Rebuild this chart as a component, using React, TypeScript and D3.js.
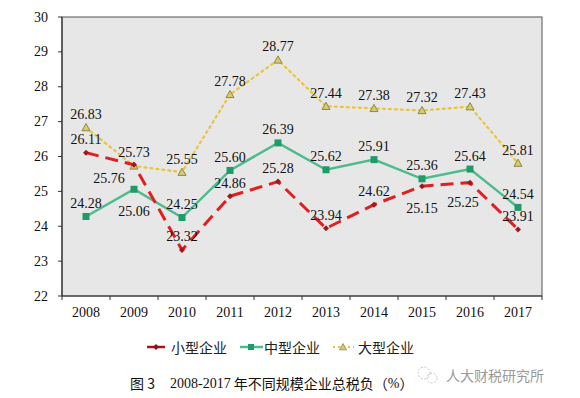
import * as d3 from 'd3'

const years = ['2008', '2009', '2010', '2011', '2012', '2013', '2014', '2015', '2016', '2017']
const smallValues = [26.11, 25.76, 23.32, 24.86, 25.28, 23.94, 24.62, 25.15, 25.25, 23.91]
const mediumValues = [24.28, 25.06, 24.25, 25.6, 26.39, 25.62, 25.91, 25.36, 25.64, 24.54]
const largeValues = [26.83, 25.73, 25.55, 27.78, 28.77, 27.44, 27.38, 27.32, 27.43, 25.81]
const yTicks = [22, 23, 24, 25, 26, 27, 28, 29, 30]

// where each point label sits relative to its marker
const smallPlace = ['up', 'downLeft', 'up', 'up', 'up', 'up', 'up', 'down', 'downLeft2', 'up']
const mediumPlace = ['up', 'down', 'up', 'up', 'up', 'up', 'up', 'up', 'up', 'up']
const largePlace = ['up', 'up', 'up', 'up', 'up', 'up', 'up', 'up', 'up', 'up']

const W = 580
const H = 398
const plot = { left: 62, right: 542, top: 17, bottom: 296 }
const numFont = '"Liberation Serif", "Times New Roman", serif'
const cjkFont = '"Noto Sans CJK SC", sans-serif'

const offsets: Record<string, [number, number]> = {
  up: [0, -13],
  down: [0, 22],
  downLeft: [-25, 14],
  downLeft2: [-7, 20],
}

export default function App() {
  const x = d3.scaleBand<string>().domain(years).range([plot.left, plot.right])
  const y = d3.scaleLinear().domain([22, 30]).range([plot.bottom, plot.top])
  const cx = (i: number) => (x(years[i]) ?? 0) + x.bandwidth() / 2
  const line = d3.line<number>().x((_, i) => cx(i)).y(d => y(d))

  const labels = (vals: number[], place: string[]) =>
    vals.map((v, i) => {
      const [dx, dy] = offsets[place[i]]
      return (
        <text key={i} x={cx(i) + dx} y={y(v) + dy} textAnchor="middle" dominantBaseline="central"
          fontFamily={numFont} fontSize={14} fill="#111">{v.toFixed(2)}</text>
      )
    })

  const tri = (px: number, py: number, s = 4) =>
    `M${px},${py - s} L${px + s},${py + s * 0.8} L${px - s},${py + s * 0.8} Z`

  return (
    <svg width={W} height={H} style={{ position: 'absolute', left: 0, top: 0, background: '#fff' }}>
      <rect x={plot.left} y={plot.top} width={plot.right - plot.left} height={plot.bottom - plot.top}
        fill="#e7e7e7" stroke="#555" strokeWidth={1} />

      {/* y axis */}
      <line x1={plot.left} x2={plot.left} y1={plot.top} y2={plot.bottom} stroke="#333" strokeWidth={1.2} />
      {yTicks.map(t => (
        <g key={t}>
          <line x1={plot.left - 4} x2={plot.left} y1={y(t)} y2={y(t)} stroke="#333" />
          <text x={plot.left - 14} y={y(t)} textAnchor="end" dominantBaseline="central"
            fontFamily={numFont} fontSize={14} fill="#111">{t}</text>
        </g>
      ))}

      {/* x axis */}
      <line x1={plot.left} x2={plot.right} y1={plot.bottom} y2={plot.bottom} stroke="#333" strokeWidth={1.2} />
      {years.map((yr, i) => (
        <g key={yr}>
          <line x1={x(yr)} x2={x(yr)} y1={plot.bottom} y2={plot.bottom + 4} stroke="#333" />
          <text x={cx(i)} y={plot.bottom + 16} textAnchor="middle" dominantBaseline="central"
            fontFamily={numFont} fontSize={14} fill="#111">{yr}</text>
        </g>
      ))}
      <line x1={plot.right} x2={plot.right} y1={plot.bottom} y2={plot.bottom + 4} stroke="#333" />

      {/* large */}
      <path d={line(largeValues) ?? ''} fill="none" stroke="#e8c53a" strokeWidth={2.2} strokeDasharray="2,4" strokeLinecap="round" />
      {/* medium */}
      <path d={line(mediumValues) ?? ''} fill="none" stroke="#4dbb8d" strokeWidth={2.5} />
      {/* small */}
      <path d={line(smallValues) ?? ''} fill="none" stroke="#e02020" strokeWidth={3} strokeDasharray="13,7" />

      {largeValues.map((v, i) => (
        <path key={i} d={tri(cx(i), y(v))} fill="#d9c977" stroke="#8e8a3a" strokeWidth={1} />
      ))}
      {mediumValues.map((v, i) => (
        <rect key={i} x={cx(i) - 3.5} y={y(v) - 3.5} width={7} height={7} fill="#1f9a68" />
      ))}
      {smallValues.map((v, i) => (
        <path key={i} d={`M${cx(i) - 3},${y(v)} L${cx(i)},${y(v) - 3} L${cx(i) + 3},${y(v)} L${cx(i)},${y(v) + 3} Z`} fill="#a01820" />
      ))}

      {labels(largeValues, largePlace)}
      {labels(mediumValues, mediumPlace)}
      {labels(smallValues, smallPlace)}

      {/* legend */}
      <g fontFamily={cjkFont} fontSize={14} fill="#222">
        <line x1={147} x2={165} y1={347} y2={347} stroke="#b01018" strokeWidth={2.5} />
        <path d="M153,347 L156,344 L159,347 L156,350 Z" fill="#8a1018" />
        <text x={171} y={347} dominantBaseline="central">小型企业</text>
        <line x1={240} x2={263} y1={347} y2={347} stroke="#4dbb8d" strokeWidth={2.5} />
        <rect x={248} y={344} width={6} height={6} fill="#1f9a68" />
        <text x={264} y={347} dominantBaseline="central">中型企业</text>
        <line x1={333} x2={354} y1={347} y2={347} stroke="#e8c53a" strokeWidth={2} strokeDasharray="2,3" />
        <path d={tri(343, 347, 3.5)} fill="#d9c977" stroke="#8e8a3a" strokeWidth={0.8} />
        <text x={358} y={347} dominantBaseline="central">大型企业</text>
      </g>

      {/* caption */}
      <text x={130} y={383} dominantBaseline="central" fontFamily={cjkFont} fontSize={14} fill="#111">图 3</text>
      <text x={170} y={383} dominantBaseline="central" fontFamily={numFont} fontSize={14} fill="#111">
        2008-2017
        <tspan fontFamily={cjkFont}> 年不同规模企业总税负（</tspan>
        <tspan>%</tspan>
        <tspan fontFamily={cjkFont}>）</tspan>
      </text>

      {/* watermark */}
      <g stroke="#c8c8c8" fill="none" strokeWidth={1} strokeDasharray="2,1.5">
        <circle cx={424} cy={373} r={6} />
        <circle cx={432} cy={378} r={5} />
      </g>
      <text x={446} y={375} dominantBaseline="central" fontFamily={cjkFont} fontSize={14} fill="#9a9a9a">人大财税研究所</text>
    </svg>
  )
}
